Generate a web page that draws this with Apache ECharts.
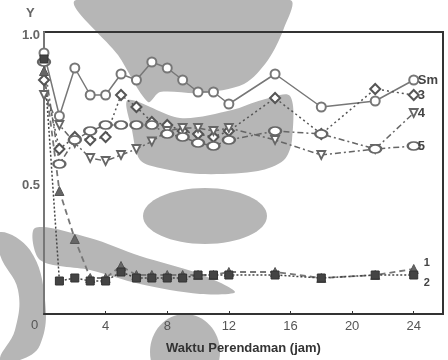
<!DOCTYPE html>
<html>
<head>
<meta charset="utf-8">
<script src="https://cdn.jsdelivr.net/npm/echarts@6/dist/echarts.min.js"></script>
<style>
html,body{margin:0;padding:0;background:#fff;}
#c{width:448px;height:360px;}
</style>
</head>
<body>
<div id="c"></div>
<script>
// time (jam)
var hours = [0, 1, 2, 3, 4, 5, 6, 7, 8, 9, 10, 11, 12, 15, 18, 21.5, 24];
var xTicks = [4, 8, 12, 16, 20, 24];
var yTicks = [0.5, 1.0];
var ySm = [0.94, 0.73, 0.89, 0.80, 0.80, 0.87, 0.85, 0.91, 0.89, 0.85, 0.81, 0.81, 0.77, 0.87, 0.76, 0.78, 0.85];
var y3  = [0.85, 0.62, 0.66, 0.65, 0.66, 0.80, 0.76, 0.71, 0.70, 0.68, 0.67, 0.66, 0.68, 0.79, 0.67, 0.82, 0.80];
var y4  = [0.80, 0.70, 0.64, 0.59, 0.58, 0.60, 0.62, 0.645, 0.68, 0.69, 0.69, 0.68, 0.69, 0.65, 0.60, 0.62, 0.74];
var y5  = [0.91, 0.57, 0.65, 0.68, 0.70, 0.70, 0.70, 0.70, 0.67, 0.66, 0.64, 0.63, 0.65, 0.68, 0.67, 0.62, 0.63];
var y1  = [0.88, 0.48, 0.32, 0.19, 0.19, 0.23, 0.20, 0.20, 0.20, 0.20, 0.20, 0.20, 0.21, 0.21, 0.19, 0.20, 0.22];
var y2  = [0.92, 0.18, 0.19, 0.18, 0.18, 0.21, 0.19, 0.19, 0.19, 0.19, 0.20, 0.20, 0.20, 0.20, 0.19, 0.20, 0.20];

function pairs(ys){ return hours.map(function(h,i){ return [h, ys[i]]; }); }

var chart = echarts.init(document.getElementById('c'), null, {renderer:'canvas'});
var labelFont = {fontFamily:'Liberation Sans', fontSize:13, fontWeight:'bold', color:'#444'};

function mk(name, ys, opt){
  return Object.assign({
    name: name, type:'line', data: pairs(ys), z: 3,
    endLabel: Object.assign({show:true, formatter: name, distance:4}, labelFont),
    animation:false
  }, opt);
}

// background watermark (scan artefact) — decorative shapes
var wm = '#b6b6b6';
var watermark = [
  {type:'polygon', z:-10, shape:{smooth:0.3, points:[[76,0],[290,0],[284,28],[268,60],[244,84],[200,93],[160,92],[148,102],[118,55]]}, style:{fill:wm}},
  {type:'polygon', z:-10, shape:{smooth:0.3, points:[[128,100],[180,118],[232,110],[262,100],[290,96],[292,140],[284,160],[258,171],[200,174],[160,168],[140,160],[132,130]]}, style:{fill:wm}},
  {type:'ellipse', z:-10, shape:{cx:205, cy:216, rx:62, ry:28}, style:{fill:wm}},
  {type:'polygon', z:-10, shape:{smooth:0.3, points:[[35,228],[90,238],[140,256],[200,274],[235,292],[200,294],[140,284],[90,270],[40,260]]}, style:{fill:wm}},
  {type:'polygon', z:-10, shape:{smooth:0.4, points:[[0,232],[30,250],[45,300],[40,345],[20,360],[0,360],[15,330],[18,290],[0,255]]}, style:{fill:wm}},
  {type:'ellipse', z:-10, shape:{cx:185, cy:352, rx:35, ry:38}, style:{fill:wm}}
];

var option = {
  animation:false,
  backgroundColor:'#fff',
  grid:{left:44, top:32, right:5, bottom:43, show:true, borderColor:'#333', borderWidth:2, backgroundColor:'transparent'},
  xAxis:{
    type:'value', min:0, max:25.9,
    axisLine:{show:true, lineStyle:{color:'#333', width:2}},
    axisTick:{show:true, inside:true, length:3, customValues: xTicks, lineStyle:{color:'#333'}},
    axisLabel:{customValues: xTicks, color:'#555', fontFamily:'Liberation Sans', fontSize:13, margin:6},
    splitLine:{show:false},
    name:'Waktu Perendaman (jam)', nameLocation:'middle', nameGap:28,
    nameTextStyle:{fontFamily:'Liberation Sans', fontSize:13, fontWeight:'bold', color:'#333'}
  },
  yAxis:{
    type:'value', min:0.07, max:1.01,
    axisLine:{show:true, lineStyle:{color:'#777', width:2}},
    axisTick:{show:false},
    axisLabel:{customValues: yTicks, formatter:function(v){return v.toFixed(1);}, color:'#666', fontFamily:'Liberation Sans', fontSize:13, fontWeight:'bold', margin:4},
    splitLine:{show:false}
  },
  graphic: watermark.concat([
    {type:'text', left:26, top:7, z:10, style:{text:'Y', fontFamily:'Liberation Sans', fontSize:13, fontWeight:'bold', fill:'#666'}},
    {type:'text', left:31, top:319, z:10, style:{text:'0', fontFamily:'Liberation Sans', fontSize:13, fill:'#555'}}
  ]),
  series:[
    mk('Sm', ySm, {symbol:'circle', symbolSize:9, lineStyle:{color:'#777', width:1.5, type:'solid'},
      itemStyle:{color:'#fff', borderColor:'#777', borderWidth:2}}),
    mk('3', y3, {symbol:'diamond', symbolSize:10, lineStyle:{color:'#555', width:1.5, type:[2,3]},
      itemStyle:{color:'#fff', borderColor:'#555', borderWidth:2}}),
    mk('4', y4, {symbol:'triangle', symbolRotate:180, symbolSize:8, lineStyle:{color:'#666', width:1.5, type:[6,3,2,3]},
      itemStyle:{color:'#fff', borderColor:'#666', borderWidth:1.8}}),
    mk('5', y5, {symbol:'circle', symbolSize:[12,8], lineStyle:{color:'#666', width:1.5, type:[6,3,2,3]},
      itemStyle:{color:'#fff', borderColor:'#666', borderWidth:2}}),
    mk('1', y1, {symbol:'triangle', symbolSize:9, lineStyle:{color:'#777', width:1.8, type:[6,4]},
      itemStyle:{color:'#666', borderColor:'#555', borderWidth:1},
      endLabel:Object.assign({show:true, formatter:'1', offset:[2,-6]}, labelFont, {fontSize:11})}),
    mk('2', y2, {symbol:'rect', symbolSize:8, lineStyle:{color:'#444', width:1.5, type:[2,2]},
      itemStyle:{color:'#444', borderColor:'#333', borderWidth:1},
      endLabel:Object.assign({show:true, formatter:'2', offset:[2,8]}, labelFont, {fontSize:11})})
  ]
};
chart.setOption(option);
</script>
</body>
</html>
